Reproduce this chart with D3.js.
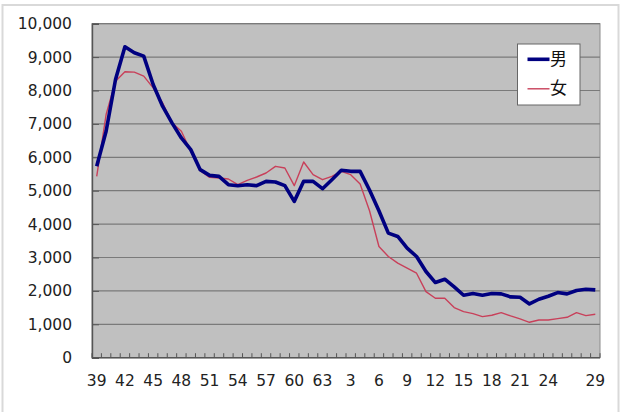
<!DOCTYPE html>
<html>
<head>
<meta charset="utf-8">
<script src="https://cdn.jsdelivr.net/npm/d3@7"></script>
<style>
  body { margin: 0; background: #fff; }
  svg { display: block; }
</style>
</head>
<body>
<div id="chart"></div>
<script>
// years: Showa 39-63, then Heisei 1-29
const categories = [
  "39","40","41","42","43","44","45","46","47","48","49","50","51","52","53",
  "54","55","56","57","58","59","60","61","62","63",
  "1","2","3","4","5","6","7","8","9","10","11","12","13","14","15","16","17",
  "18","19","20","21","22","23","24","25","26","27","28","29"
];

const tickLabels = ["39","42","45","48","51","54","57","60","63","3","6","9",
                    "12","15","18","21","24","29"];

const male = [
  5730, 6780, 8330, 9310, 9130, 9030, 8180, 7530, 7030, 6580, 6230, 5630,
  5460, 5430, 5180, 5150, 5180, 5150, 5280, 5260, 5150, 4680, 5280, 5280,
  5060, 5330, 5610, 5580, 5580, 5020, 4400, 3730, 3630, 3280, 3030, 2580,
  2250, 2350, 2120, 1870, 1920, 1870, 1920, 1910, 1820, 1810, 1610, 1750,
  1840, 1950, 1910, 2010, 2050, 2030
];

const female = [
  5430, 7280, 8280, 8560, 8550, 8430, 8080, 7630, 7030, 6780, 6180, 5600,
  5400, 5380, 5350, 5180, 5310, 5410, 5530, 5730, 5680, 5150, 5860, 5480,
  5330, 5430, 5580, 5480, 5200, 4400, 3330, 3030, 2830, 2680, 2530, 1980,
  1780, 1780, 1500, 1380, 1320, 1230, 1270, 1350, 1250, 1160, 1060, 1130,
  1130, 1170, 1210, 1350, 1260, 1300
];

const yTicks = [0, 1000, 2000, 3000, 4000, 5000, 6000, 7000, 8000, 9000, 10000];

const series = [
  { name: "男", values: male,   color: "#000080", width: 3.6 },
  { name: "女", values: female, color: "#c8405a", width: 1.4 }
];

const width = 620, height = 412;
const plot = { left: 92, right: 600, top: 23.7, bottom: 357.7 };
const numFont = "'DejaVu Sans', sans-serif";

const svg = d3.select("#chart")
  .append("svg")
  .attr("width", width)
  .attr("height", height);

// outer frame
svg.append("rect")
  .attr("x", 2.5).attr("y", 5)
  .attr("width", 616).attr("height", 412)
  .attr("fill", "none")
  .attr("stroke", "#d9d9d9")
  .attr("stroke-width", 2);

const x = d3.scaleBand()
  .domain(categories)
  .range([plot.left, plot.right])
  .padding(0);

const y = d3.scaleLinear()
  .domain([0, 10000])
  .range([plot.bottom, plot.top]);

const cx = d => x(d) + x.bandwidth() / 2;

// plot background
svg.append("rect")
  .attr("x", plot.left).attr("y", plot.top)
  .attr("width", plot.right - plot.left)
  .attr("height", plot.bottom - plot.top)
  .attr("fill", "#c0c0c0")
  .attr("stroke", "#8c8c8c")
  .attr("stroke-width", 1);

// gridlines
svg.append("g")
  .selectAll("line")
  .data(yTicks.filter(t => t > 0))
  .enter()
  .append("line")
  .attr("x1", plot.left).attr("x2", plot.right)
  .attr("y1", d => y(d)).attr("y2", d => y(d))
  .attr("stroke", "#7a7a7a")
  .attr("stroke-width", 1.2);

// y axis (ticks inside the plot)
const yAxis = svg.append("g")
  .attr("transform", `translate(${plot.left},0)`)
  .call(d3.axisLeft(y).tickValues(yTicks).tickSize(-7).tickPadding(20)
    .tickFormat(d3.format(",")));
yAxis.select(".domain").attr("stroke", "#555").attr("stroke-width", 1.4);
yAxis.selectAll(".tick line").attr("stroke", "#555");
yAxis.selectAll("text")
  .attr("font-family", numFont)
  .attr("font-size", 15.5)
  .attr("fill", "#222");

// x axis: ticks at category boundaries, labels at some categories
const xAxis = svg.append("g");
xAxis.append("line")
  .attr("x1", plot.left).attr("x2", plot.right)
  .attr("y1", plot.bottom).attr("y2", plot.bottom)
  .attr("stroke", "#555")
  .attr("stroke-width", 1.4);

const boundaries = categories.map(c => x(c)).concat([plot.right]);
xAxis.selectAll(".xtick")
  .data(boundaries)
  .enter()
  .append("line")
  .attr("class", "xtick")
  .attr("x1", d => d).attr("x2", d => d)
  .attr("y1", plot.bottom).attr("y2", plot.bottom - 4.5)
  .attr("stroke", "#555")
  .attr("stroke-width", 1);

xAxis.selectAll(".xlabel")
  .data(tickLabels)
  .enter()
  .append("text")
  .attr("class", "xlabel")
  .attr("x", d => cx(d))
  .attr("y", 381)
  .attr("text-anchor", "middle")
  .attr("dominant-baseline", "middle")
  .attr("font-family", numFont)
  .attr("font-size", 15.5)
  .attr("fill", "#222")
  .text(d => d);

// lines
const line = d3.line()
  .x((v, i) => cx(categories[i]))
  .y(v => y(v));

// draw female first so male sits on top
series.slice().reverse().forEach(s => {
  svg.append("path")
    .datum(s.values)
    .attr("fill", "none")
    .attr("stroke", s.color)
    .attr("stroke-width", s.width)
    .attr("stroke-linejoin", "round")
    .attr("d", line);
});

// legend
const legend = svg.append("g");
legend.append("rect")
  .attr("x", 517.5).attr("y", 44)
  .attr("width", 62.5).attr("height", 61)
  .attr("fill", "#fff")
  .attr("stroke", "#666")
  .attr("stroke-width", 1);

const items = legend.selectAll(".item")
  .data(series)
  .enter()
  .append("g")
  .attr("transform", (d, i) => `translate(0,${59.3 + i * 29.5})`);

items.append("line")
  .attr("x1", 527.5).attr("x2", 549.5)
  .attr("y1", 0).attr("y2", 0)
  .attr("stroke", d => d.color)
  .attr("stroke-width", d => d.width);

items.append("text")
  .attr("x", 550)
  .attr("y", 1)
  .attr("dominant-baseline", "middle")
  .attr("font-family", "'Noto Sans CJK JP', sans-serif")
  .attr("font-size", 17)
  .attr("fill", "#111")
  .text(d => d.name);
</script>
</body>
</html>
